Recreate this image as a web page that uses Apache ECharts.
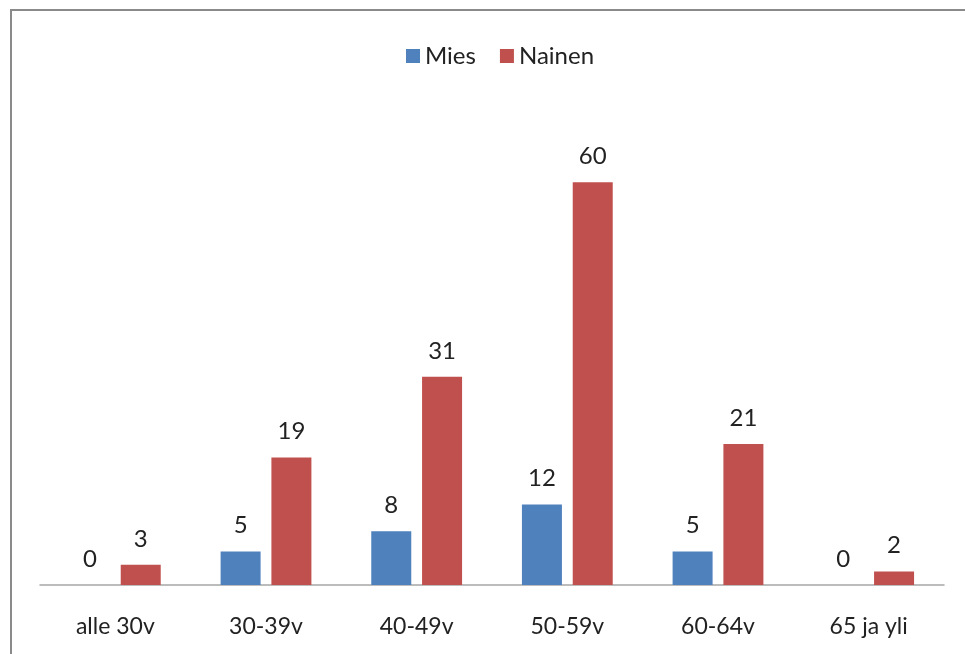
<!DOCTYPE html>
<html>
<head>
<meta charset="utf-8">
<script src="https://cdn.jsdelivr.net/npm/echarts@6/dist/echarts.min.js"></script>
<style>
  html, body { margin: 0; padding: 0; background: #fff; }
  #chart { width: 965px; height: 654px; }
</style>
</head>
<body>
<div id="chart"></div>
<script>
// ikäryhmät ja vastaajamäärät sukupuolittain
const categories = ['alle 30v', '30-39v', '40-49v', '50-59v', '60-64v', '65 ja yli']
const mies = [0, 5, 8, 12, 5, 0]
const nainen = [3, 19, 31, 60, 21, 2]

const font = 'Lato, "Noto Sans", sans-serif'

const chart = echarts.init(document.getElementById('chart'))
chart.setOption({
  animation: false,
  textStyle: { fontFamily: font },
  graphic: [
    {
      type: 'rect',
      shape: { x: 11, y: 10, width: 1000, height: 700 },
      style: { fill: 'none', stroke: '#8a8a8a', lineWidth: 2 },
      silent: true,
    },
  ],
  legend: {
    top: 39,
    left: 401,
    itemWidth: 14,
    itemHeight: 14,
    itemGap: 24,
    icon: 'rect',
    textStyle: { fontSize: 24, color: '#222', fontFamily: font },
    data: ['Mies', 'Nainen'],
  },
  grid: { left: 40, right: 21, top: 115, bottom: 69 },
  xAxis: {
    type: 'category',
    data: categories,
    axisLine: { lineStyle: { color: '#a6a6a6', width: 1.5 } },
    axisTick: { show: false },
    axisLabel: { fontSize: 23, color: '#222', margin: 30, fontFamily: font },
  },
  yAxis: {
    type: 'value',
    min: 0,
    max: 70,
    show: false,
    splitLine: { show: false },
  },
  series: [
    {
      name: 'Mies',
      type: 'bar',
      data: mies,
      barWidth: 40,
      barGap: '27%',
      itemStyle: { color: '#4f81bd' },
      label: { show: true, position: 'top', distance: 14, fontSize: 24, color: '#222', fontFamily: font },
    },
    {
      name: 'Nainen',
      type: 'bar',
      data: nainen,
      barWidth: 40,
      itemStyle: { color: '#c0504d' },
      label: { show: true, position: 'top', distance: 14, fontSize: 24, color: '#222', fontFamily: font },
    },
  ],
})
</script>
</body>
</html>
